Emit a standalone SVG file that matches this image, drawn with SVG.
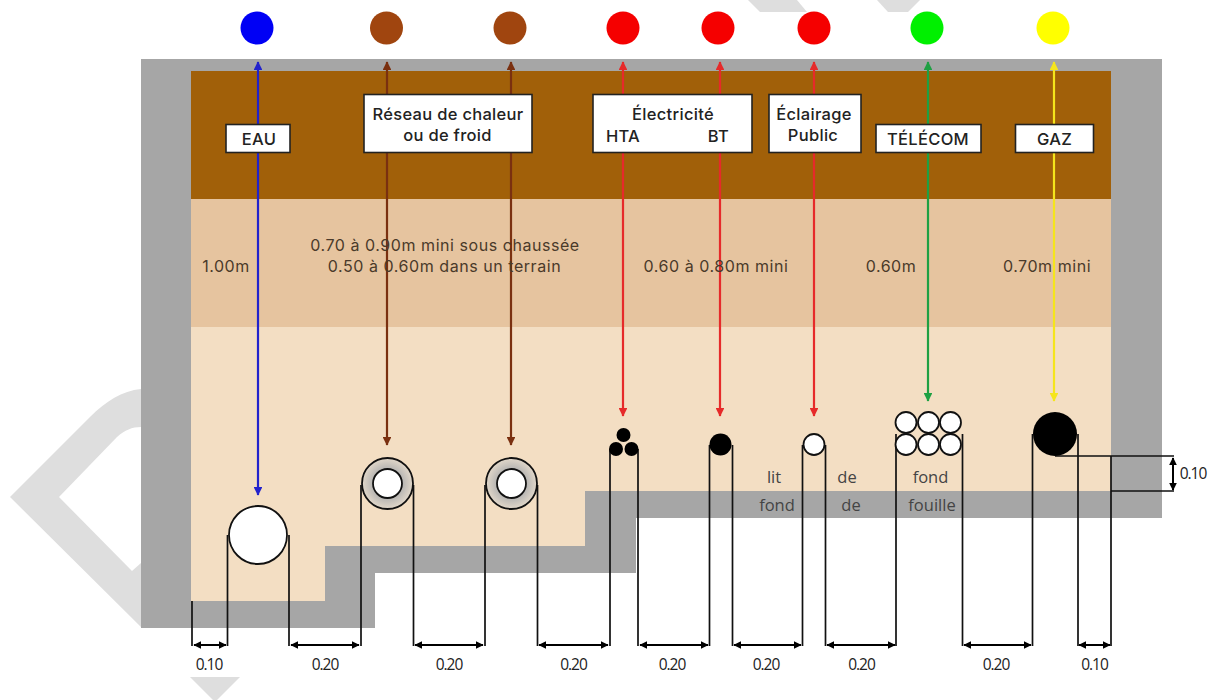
<svg xmlns="http://www.w3.org/2000/svg" width="1211" height="700" viewBox="0 0 1211 700">
<style>
text{font-family:"Liberation Sans",sans-serif;}
.m{font-family:"Inter","Noto Sans",sans-serif;font-size:16.5px;font-weight:500;letter-spacing:.3px;fill:#222;text-anchor:middle}
.l{font-family:"Inter","Noto Sans",sans-serif;font-size:16px;letter-spacing:.55px;fill:#4a3a2a;text-anchor:middle}
.f{font-family:"Open Sans",sans-serif;font-size:16.5px;fill:#444;text-anchor:middle}
.d{font-family:"Open Sans",sans-serif;font-size:15.5px;letter-spacing:-1px;fill:#222;text-anchor:middle}
.box{fill:#fff;stroke:#222;stroke-width:1.6}
.ring{stroke:#111;stroke-width:1.8}
.k{stroke:#111;stroke-width:1.7;fill:none}
.dim{stroke:#000;stroke-width:2;fill:none;marker-start:url(#a);marker-end:url(#a)}
.c{fill:none;stroke-width:2.2;marker-start:url(#c);marker-end:url(#c)}
</style>
<defs>
<marker id="a" viewBox="0 0 6 6" refX="5.500" refY="3" markerWidth="4" markerHeight="4" orient="auto-start-reverse"><path d="M0 0L6 3L0 6z" fill="#000"/></marker>
<marker id="c" viewBox="0 0 6 6" refX="5.500" refY="3" markerWidth="4" markerHeight="4" orient="auto-start-reverse"><path d="M0 0L6 3L0 6z" fill="context-stroke"/></marker>
<radialGradient id="rg"><stop offset=".6" stop-color="#b9b7b4"/><stop offset="1" stop-color="#e2d8ca"/></radialGradient>
</defs>
<g id="watermark" fill="#dedede">
<path d="M141 389C122 391 106 401 90 417L10 497L141 627V563L132 571L59 497L117 437C125 430 132 427 141 427z"/>
<path d="M190 677H240L217 700H213z"/>
<path d="M748 0H797L807 12H760z"/>
<path d="M877 0H920L908 12H888z"/>
</g>
<g id="ground">
<path d="M141 59H1162V518H636V573H375V628H141z" fill="#a6a6a6"/>
<rect x="191" y="71" width="920" height="128" fill="#a16009"/>
<rect x="191" y="199" width="920" height="128" fill="#e6c49f"/>
<path d="M191 327H1111V491H585V546H325V601H191z" fill="#f3dec3"/>
</g>
<g id="connectors">
<path class="c" d="M258 62V495" stroke="#2222cc"/>
<path class="c" d="M387 62V445" stroke="#7a3010"/>
<path class="c" d="M511 62V445" stroke="#7a3010"/>
<path class="c" d="M623 62V416" stroke="#e62a2a"/>
<path class="c" d="M720 62V416" stroke="#e62a2a"/>
<path class="c" d="M814 62V416" stroke="#e62a2a"/>
<path class="c" d="M928 62V401" stroke="#1fa043"/>
<path class="c" d="M1054 62V401" stroke="#f5e51c"/>
<path class="k" d="M192 601V646M227.500 535V646M289 535V646M361 485V646M413.500 485V646M485 485V646M537.500 485V646M610 449V646M638 449V646M709.500 445V646M732.500 445V646M802.500 445V646M825.500 445V646M896 434V646M962.500 434V646M1032.500 434V646M1078 434V646M1111 456V646"/>
<path class="k" d="M1055 456H1174M1111 491H1174"/>
<line class="dim" x1="194" y1="645" x2="226" y2="645"/>
<line class="dim" x1="291" y1="645" x2="359" y2="645"/>
<line class="dim" x1="415" y1="645" x2="483" y2="645"/>
<line class="dim" x1="539" y1="645" x2="608" y2="645"/>
<line class="dim" x1="640" y1="645" x2="708" y2="645"/>
<line class="dim" x1="734" y1="645" x2="801" y2="645"/>
<line class="dim" x1="827" y1="645" x2="895" y2="645"/>
<line class="dim" x1="964" y1="645" x2="1031" y2="645"/>
<line class="dim" x1="1079" y1="645" x2="1110" y2="645"/>
<line class="dim" x1="1173" y1="458" x2="1173" y2="490"/>
</g>
<g id="node-eau"><circle cx="257" cy="28" r="16.500" fill="#0000f5"/><rect class="box" x="226" y="124.500" width="64" height="28"/><text class="m" x="259" y="145">EAU</text><circle class="ring" cx="258" cy="535" r="29" fill="#fff"/></g>
<g id="node-chaleur1"><circle cx="386.500" cy="28" r="16.500" fill="#a0450f"/><circle class="ring" cx="387.500" cy="483.500" r="25.500" fill="url(#rg)"/><circle class="ring" cx="387.500" cy="483.500" r="14.500" fill="#fff"/></g>
<g id="node-chaleur2"><circle cx="510" cy="28" r="16.500" fill="#a0450f"/><circle class="ring" cx="511.500" cy="483.500" r="25.500" fill="url(#rg)"/><circle class="ring" cx="511.500" cy="483.500" r="14.500" fill="#fff"/></g>
<g id="label-chaleur"><rect class="box" x="364" y="94.500" width="168" height="58"/><text class="m" x="448" y="120">Réseau de chaleur</text><text class="m" x="447.500" y="141">ou de froid</text></g>
<g id="node-hta"><circle cx="623" cy="28" r="16.500" fill="#f50000"/><circle cx="623.500" cy="435" r="7" fill="#000"/><circle cx="616" cy="449" r="7" fill="#000"/><circle cx="631.500" cy="449" r="7" fill="#000"/></g>
<g id="node-bt"><circle cx="718" cy="28" r="16.500" fill="#f50000"/><circle cx="720.500" cy="444.500" r="11" fill="#000"/></g>
<g id="label-elec"><rect class="box" x="593" y="94.500" width="159" height="58"/><text class="m" x="673" y="120">Électricité</text><text class="m" x="623" y="142">HTA</text><text class="m" x="718.500" y="142">BT</text></g>
<g id="node-ep"><circle cx="814" cy="28" r="16.500" fill="#f50000"/><circle class="ring" cx="814" cy="444.500" r="10.500" fill="#fff"/><rect class="box" x="769" y="94.500" width="92" height="58"/><text class="m" x="814" y="120">Éclairage</text><text class="m" x="813" y="141">Public</text></g>
<g id="node-telecom"><circle cx="927" cy="28" r="16.500" fill="#00f000"/>
<g class="ring" fill="#fff"><circle cx="906" cy="422.500" r="10.500"/><circle cx="928.500" cy="422.500" r="10.500"/><circle cx="950.500" cy="422.500" r="10.500"/><circle cx="906" cy="444.500" r="10.500"/><circle cx="928.500" cy="444.500" r="10.500"/><circle cx="950.500" cy="444.500" r="10.500"/></g>
<rect class="box" x="876" y="124.500" width="105" height="28"/><text class="m" x="928" y="145">TÉLÉCOM</text></g>
<g id="node-gaz"><circle cx="1053" cy="28" r="16.500" fill="#ffff00"/><circle cx="1055" cy="434" r="22" fill="#000"/><rect class="box" x="1015.500" y="124.500" width="78" height="28"/><text class="m" x="1054.500" y="145">GAZ</text></g>
<g id="labels">
<text class="l" x="226" y="272">1.00m</text>
<text class="l" x="445" y="250.500">0.70 à 0.90m mini sous chaussée</text>
<text class="l" x="444.500" y="272">0.50 à 0.60m dans un terrain</text>
<text class="l" x="716" y="272">0.60 à 0.80m mini</text>
<text class="l" x="891" y="272">0.60m</text>
<text class="l" x="1047" y="272">0.70m mini</text>
<text class="f" x="774" y="483">lit</text><text class="f" x="847" y="483">de</text><text class="f" x="930.500" y="483">fond</text>
<text class="f" x="777" y="511">fond</text><text class="f" x="851" y="511">de</text><text class="f" x="932" y="511">fouille</text>
</g>
<g id="dimensions">
<text class="d" x="209" y="670">0.10</text><text class="d" x="325" y="670">0.20</text><text class="d" x="449" y="670">0.20</text><text class="d" x="573.500" y="670">0.20</text><text class="d" x="672" y="670">0.20</text><text class="d" x="766" y="670">0.20</text><text class="d" x="861.500" y="670">0.20</text><text class="d" x="996" y="670">0.20</text><text class="d" x="1094.500" y="670">0.10</text><text class="d" x="1193" y="479">0.10</text>
</g>
</svg>
